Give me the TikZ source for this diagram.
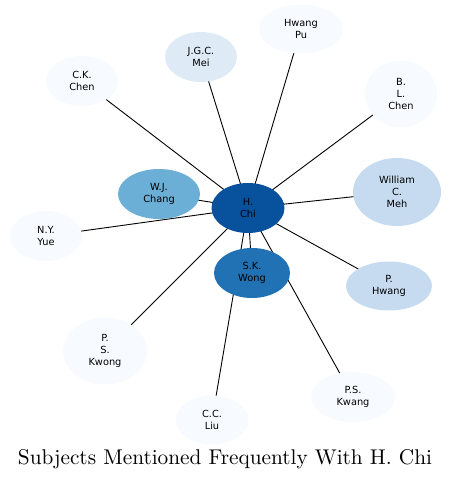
\documentclass[tikz,border=0pt]{standalone}
\usepackage{graphicx}
\usepackage{fontspec}
\setsansfont{DejaVu Sans}
\usetikzlibrary{shapes.geometric,backgrounds}
\definecolor{c0}{HTML}{F7FBFF}
\definecolor{c1}{HTML}{DEEBF7}
\definecolor{c2}{HTML}{C6DBEF}
\definecolor{c3}{HTML}{6BAED6}
\definecolor{c4}{HTML}{2171B5}
\definecolor{c5}{HTML}{08519C}
\tikzset{
  person/.style={ellipse, draw=none, inner sep=0pt, align=center,
    font=\sffamily\fontsize{9.8}{12}\selectfont, text=black},
  link/.style={draw=black, line width=0.9pt},
}
\begin{document}
\begin{tikzpicture}[x=1pt,y=-1pt]
\useasboundingbox (0,0) rectangle (451,481);
\node[person, fill=c5, minimum width=73pt, minimum height=50pt] (chi) at (248,208) {H.\\Chi};
\node[person, fill=c3, minimum width=82pt, minimum height=50pt] (chang) at (159,194) {W.J.\\Chang};
\node[person, fill=c4, minimum width=76pt, minimum height=50pt] (wong) at (252,273) {S.K.\\Wong};
\node[person, fill=c0, minimum width=72pt, minimum height=50pt] (ckchen) at (82,81) {C.K.\\Chen};
\node[person, fill=c1, minimum width=72pt, minimum height=50pt] (mei) at (201,57) {J.G.C.\\Mei};
\node[person, fill=c0, minimum width=84pt, minimum height=49pt] (pu) at (301,29) {Hwang\\Pu};
\node[person, fill=c0, minimum width=72pt, minimum height=67pt] (blchen) at (401,94) {B.\\L.\\Chen};
\node[person, fill=c2, minimum width=88pt, minimum height=68pt] (meh) at (397,192) {William\\C.\\Meh};
\node[person, fill=c0, minimum width=72pt, minimum height=50pt] (yue) at (46,236) {N.Y.\\Yue};
\node[person, fill=c2, minimum width=86pt, minimum height=49pt] (phwang) at (389,286) {P.\\Hwang};
\node[person, fill=c0, minimum width=84pt, minimum height=67pt] (kwong) at (105,351) {P.\\S.\\Kwong};
\node[person, fill=c0, minimum width=73pt, minimum height=49pt] (liu) at (212,420) {C.C.\\Liu};
\node[person, fill=c0, minimum width=84pt, minimum height=50pt] (kwang) at (353,397) {P.S.\\Kwang};
\node[inner sep=0pt] (title) at (225,459) {\scalebox{2.13}{\fontsize{10}{12}\selectfont Subjects Mentioned Frequently With H. Chi}};
\begin{scope}[on background layer]
\foreach \n in {chang,wong,ckchen,mei,pu,blchen,meh,yue,phwang,kwong,liu,kwang}
  \draw[link] (chi.center) -- (\n.center);
\end{scope}
\end{tikzpicture}
\end{document}
